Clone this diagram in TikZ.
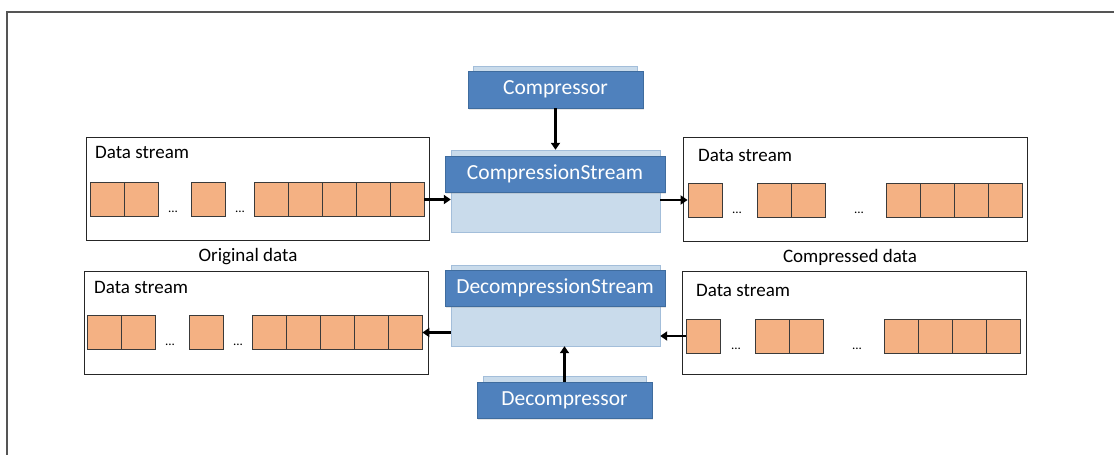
\documentclass[tikz,border=0pt]{standalone}
\usepackage{fontspec}
\setmainfont{Carlito}
\usetikzlibrary{arrows.meta,shadows}

\definecolor{bandblue}{HTML}{4F81BD}
\definecolor{bandedge}{HTML}{3F6C9E}
\definecolor{bodyblue}{HTML}{C9DBEB}
\definecolor{bodyedge}{HTML}{A3BEDA}
\definecolor{cellfill}{HTML}{F4B183}
\definecolor{celledge}{HTML}{3A3A3A}
\definecolor{framegray}{HTML}{555555}

\tikzset{
  band/.style={draw=bandedge, fill=bandblue, text=white, inner sep=0pt,
    font=\fontsize{21.5}{24}\selectfont,
    drop shadow={shadow xshift=0.5pt, shadow yshift=-2pt, opacity=0.2}},
  backing/.style={draw=bodyedge, fill=bodyblue, inner sep=0pt},
  streambox/.style={draw=black!85, fill=white, inner sep=0pt, line width=0.9pt},
  cell/.style={draw=celledge, fill=cellfill, inner sep=0pt, line width=0.8pt,
    minimum width=34pt, minimum height=34pt},
  gap/.style={font=\fontsize{13}{14}\selectfont, inner sep=0pt},
  caption/.style={font=\fontsize{19}{21}\selectfont, inner sep=0pt},
  link/.style={line width=2.6pt, -{Triangle[length=7pt,width=9pt]}}
}

\begin{document}
\begin{tikzpicture}[x=1pt, y=-1pt]

\useasboundingbox (0,0) rectangle (1114,455);

% outer frame
\draw [framegray, line width=1.5pt] (7,455) -- (7,12) -- (1114,12);

% data stream boxes
\node [streambox, minimum width=343pt, minimum height=103pt] (boxa) at (257.5,188.5) {};
\node [streambox, minimum width=344pt, minimum height=104pt] (boxb) at (855,189) {};
\node [streambox, minimum width=344pt, minimum height=103pt] (boxc) at (256,322.5) {};
\node [streambox, minimum width=344pt, minimum height=103pt] (boxd) at (854,322.5) {};

\node [caption, anchor=west] (labela) at (95,152) {Data stream};
\node [caption, anchor=west] (labelb) at (698,155) {Data stream};
\node [caption, anchor=west] (labelc) at (94,287) {Data stream};
\node [caption, anchor=west] (labeld) at (696,290) {Data stream};

\node [caption] (orig) at (248,257) {Original data};
\node [caption] (compd) at (850,257) {Compressed data};

% cells
\foreach \x [count=\i] in {107,141,208,271,305,339,373,407}
  \node [cell] (a\i) at (\x,199.5) {};
\foreach \x [count=\i] in {705,774,808,903,937,971,1005}
  \node [cell] (b\i) at (\x,200) {};
\foreach \x [count=\i] in {104,138,206,269,303,337,371,405}
  \node [cell] (c\i) at (\x,332.5) {};
\foreach \x [count=\i] in {703,772,806,901,935,969,1003}
  \node [cell] (d\i) at (\x,336) {};

\node [gap] (ga1) at (173,212) {...};
\node [gap] (ga2) at (240,212) {...};
\node [gap] (gb1) at (737,213) {...};
\node [gap] (gb2) at (859,213) {...};
\node [gap] (gc1) at (170,345) {...};
\node [gap] (gc2) at (238,345) {...};
\node [gap] (gd1) at (736,349) {...};
\node [gap] (gd2) at (857,349) {...};

% blue blocks
\node [backing, minimum width=164pt, minimum height=34pt] (compback) at (555,83) {};
\node [band, minimum width=175pt, minimum height=37pt] (comp) at (555.5,89.5) {Compressor};

\node [backing, minimum width=209pt, minimum height=82pt] (cbody) at (555.5,191) {};
\node [band, minimum width=220pt, minimum height=36pt] (cstream) at (555,174) {CompressionStream};

\node [backing, minimum width=209pt, minimum height=81pt] (dbody) at (555.5,305.5) {};
\node [band, minimum width=220pt, minimum height=36pt] (dstream) at (555,288) {DecompressionStream};

\node [backing, minimum width=163pt, minimum height=34pt] (dcompback) at (564.5,393) {};
\node [band, minimum width=175pt, minimum height=36pt] (dcomp) at (564.5,400) {Decompressor};

\begin{scope}[link]
\draw (comp.south) -- (cbody.north); %comp-cstream
\draw (a8.east) -- (a8.east -| cbody.west); %a8-cstream
\draw (cbody.east |- b1.west) -- (b1.west); %cstream-b1
\draw (d1.west) -- (d1.west -| dbody.east); %d1-dstream
\draw (dbody.west |- c8.east) -- (c8.east); %dstream-c8
\draw (dcomp.north) -- (dcomp.north |- dbody.south); %dcomp-dstream
\end{scope}

\end{tikzpicture}
\end{document}
